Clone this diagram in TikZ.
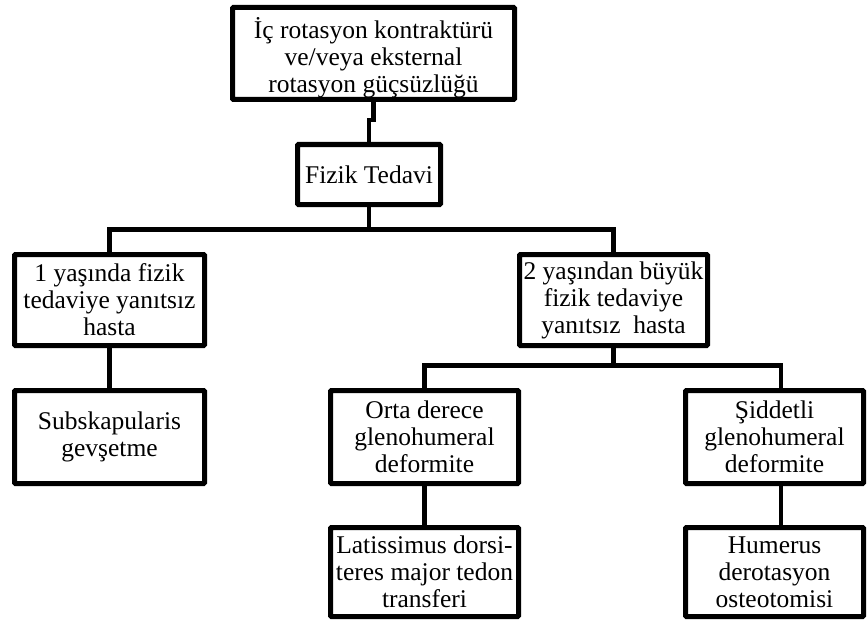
\documentclass[tikz,border=0pt]{standalone}
\usepackage{fontspec}
\setmainfont{Liberation Serif}
\begin{document}
\begin{tikzpicture}[x=1pt,y=-1pt,
  box/.style={draw=black, line width=5pt, rounded corners=1pt, fill=white, inner sep=0pt, align=center,
    font=\fontsize{25.5}{27}\selectfont},
  conn/.style={draw=black, line width=4.5pt}]
\useasboundingbox (0,0) rectangle (867,623);
\node[box, minimum width=282, minimum height=92] (top) at (373.5,53.5) {\rule{0pt}{29pt}İç rotasyon kontraktürü\\ve/veya eksternal\\rotasyon güçsüzlüğü};
\node[box, minimum width=143, minimum height=60] (fiz) at (369,174.5) {Fizik Tedavi};
\node[box, minimum width=190, minimum height=91] (b1) at (109.5,300) {1 yaşında fizik\\tedaviye yanıtsız\\hasta};
\node[box, minimum width=188, minimum height=91] (b2) at (613.5,300) {2 yaşından büyük\\fizik tedaviye\\yanıtsız\ \ hasta};
\node[box, minimum width=190, minimum height=93] (sub) at (109.5,437) {Subskapularis\\gevşetme};
\node[box, minimum width=188, minimum height=93] (orta) at (424.5,437) {Orta derece\\glenohumeral\\deformite};
\node[box, minimum width=178, minimum height=93] (sid) at (774.5,437) {Şiddetli\\glenohumeral\\deformite};
\node[box, minimum width=188, minimum height=89] (lat) at (424.5,572) {Latissimus dorsi-\\teres major tedon\\transferi};
\node[box, minimum width=178, minimum height=89] (hum) at (774.5,572) {Humerus\\derotasyon\\osteotomisi};
\draw[conn] (top.south) -- ++(0,18) -| (fiz.north);
\draw[conn] (fiz.south) -- (fiz.south |- 0,232);
\draw[conn] (b1.north) -- ++(0,-22.5) -| (b2.north);
\draw[conn] (b1.south) -- (sub.north);
\coordinate (j2) at (613.5,368);
\draw[conn] (b2.south) -- (j2);
\coordinate (sidtop) at ([xshift=6.5pt]sid.north);
\coordinate (humtop) at ([xshift=6.5pt]hum.north);
\draw[conn] (orta.north) -- ++(0,-22.5) -| (sidtop);
\draw[conn] (orta.south) -- (lat.north);
\draw[conn] (sidtop |- sid.south) -- (humtop);
\end{tikzpicture}
\end{document}
